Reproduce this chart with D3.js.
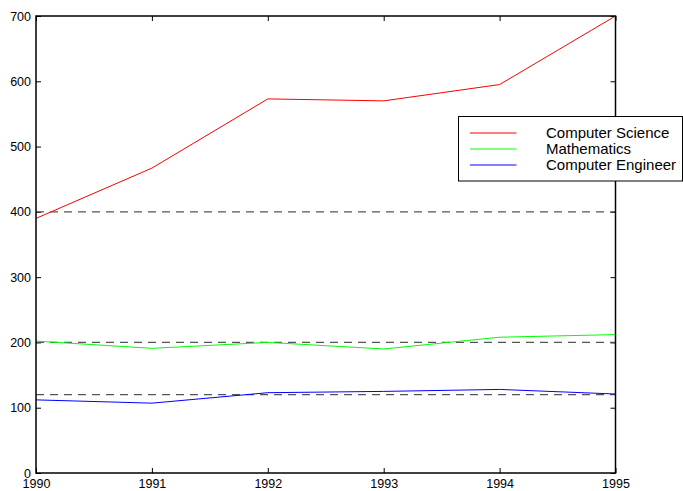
<!DOCTYPE html>
<html>
<head>
<meta charset="utf-8">
<script src="https://cdn.jsdelivr.net/npm/d3@7"></script>
<style>
  body { margin: 0; background: #fff; }
  text { font-family: "Liberation Sans", Arial, sans-serif; }
</style>
</head>
<body>
<svg id="chart" width="683" height="491"></svg>
<script>
const years = [1990, 1991, 1992, 1993, 1994, 1995];
const compSci = [390, 467, 573, 570, 595, 700];
const maths = [202, 191, 200, 190, 208, 212];
const compEng = [112, 107, 123, 125, 128, 121];
const refLines = [400, 200, 120];
const yTicks = [0, 100, 200, 300, 400, 500, 600, 700];

const series = [
  {name: 'Computer Science', values: compSci, color: '#ff0000'},
  {name: 'Mathematics', values: maths, color: '#00ff00'},
  {name: 'Computer Engineer', values: compEng, color: '#0000ff'}
];

const svg = d3.select('#chart');
const mLeft = 36, mRight = 615.5, mTop = 16, mBottom = 473;

const x = d3.scaleLinear().domain([1990, 1995]).range([mLeft, mRight]);
const y = d3.scaleLinear().domain([0, 700]).range([mBottom, mTop]);

// axes with inward ticks
svg.append('g')
  .attr('transform', 'translate(0,' + mBottom + ')')
  .call(d3.axisBottom(x).tickValues(years).tickFormat(d3.format('d')).tickSize(-5).tickPadding(6.5))
  .call(g => g.select('.domain').remove());
svg.append('g')
  .attr('transform', 'translate(0,' + mTop + ')')
  .call(d3.axisTop(x).tickValues(years).tickSize(-5).tickFormat(''))
  .call(g => g.select('.domain').remove());
svg.append('g')
  .attr('transform', 'translate(' + mLeft + ',0)')
  .call(d3.axisLeft(y).tickValues(yTicks).tickSize(-5).tickPadding(5))
  .call(g => g.select('.domain').remove());
svg.append('g')
  .attr('transform', 'translate(' + mRight + ',0)')
  .call(d3.axisRight(y).tickValues(yTicks).tickSize(-5).tickFormat(''))
  .call(g => g.select('.domain').remove());

svg.selectAll('.tick text').attr('font-size', 12.5).attr('fill', '#000')
  .style('font-family', '"Liberation Sans", Arial, sans-serif');
svg.selectAll('.tick line').attr('stroke', '#000');

// dashed reference lines
svg.selectAll('.ref').data(refLines).enter().append('line')
  .attr('x1', mLeft).attr('x2', mRight)
  .attr('y1', d => y(d)).attr('y2', d => y(d))
  .attr('stroke', '#555').attr('stroke-width', 1.2)
  .attr('stroke-dasharray', '8,6');

const line = d3.line().x((d, i) => x(years[i])).y(d => y(d));
svg.selectAll('.series').data(series).enter().append('path')
  .attr('d', d => line(d.values))
  .attr('fill', 'none')
  .attr('stroke', d => d.color)
  .attr('stroke-width', 1);

// frame
svg.append('rect')
  .attr('x', mLeft).attr('y', mTop)
  .attr('width', mRight - mLeft).attr('height', mBottom - mTop)
  .attr('fill', 'none').attr('stroke', '#000').attr('stroke-width', 1.5);

// legend
const lg = svg.append('g');
lg.append('rect')
  .attr('x', 458.5).attr('y', 116.5).attr('width', 224).attr('height', 64.5)
  .attr('fill', '#fff').attr('stroke', '#000').attr('stroke-width', 1);
series.forEach((s, i) => {
  const ly = 133 + i * 16;
  lg.append('line').attr('x1', 470).attr('x2', 516.5)
    .attr('y1', ly).attr('y2', ly)
    .attr('stroke', s.color).attr('stroke-width', 1);
  lg.append('text').attr('x', 546).attr('y', ly + 5.3)
    .attr('font-size', 15).text(s.name);
});
</script>
</body>
</html>
